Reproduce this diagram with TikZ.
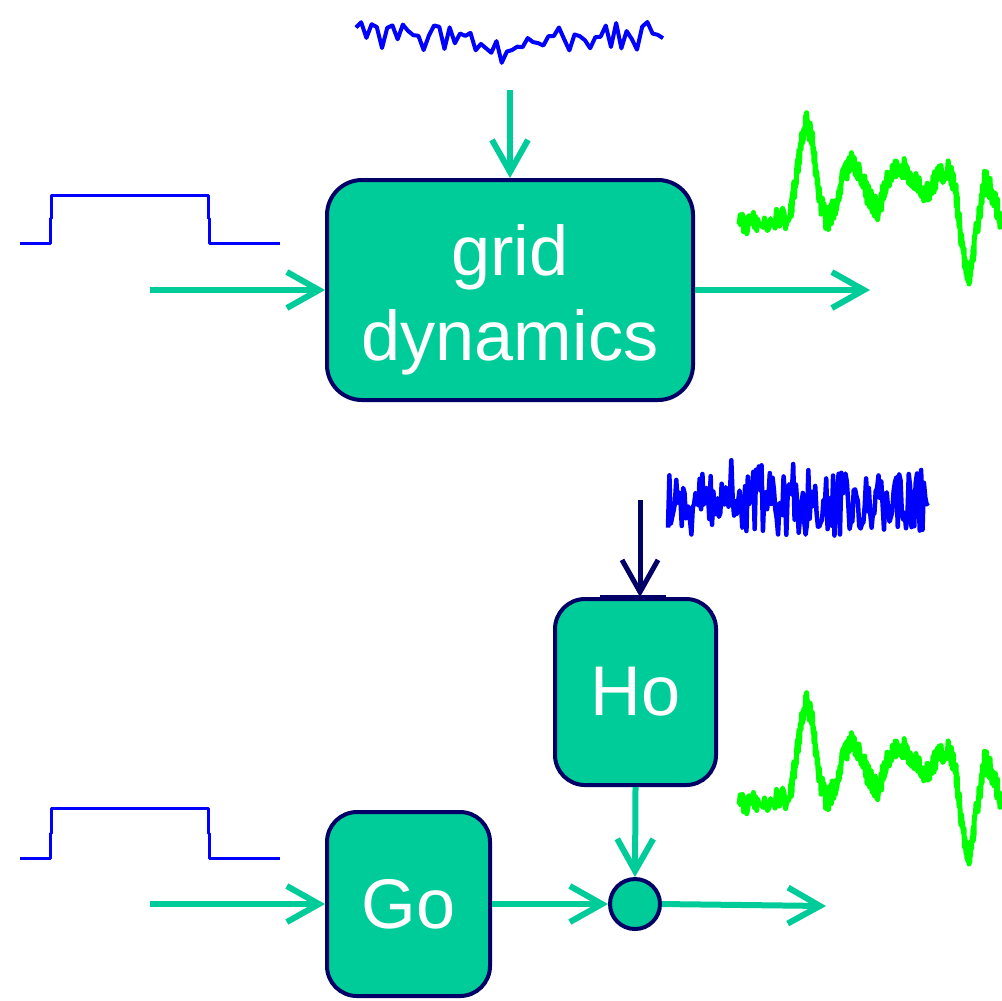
\documentclass[tikz,border=0pt]{standalone}
\usepackage{fontspec}
\setmainfont{Liberation Sans}
\usetikzlibrary{arrows.meta}
\definecolor{blockTeal}{HTML}{00CC99}
\definecolor{edgeNavy}{HTML}{000066}
\definecolor{sigBlue}{HTML}{0000FF}
\definecolor{sigGreen}{HTML}{00FF00}

% measured output trace, drawn twice
\newcommand{\greentrace}{%
  \draw[sigGreen, line width=0.5mm, line join=round] (738,225)
    \foreach \xa/\ya/\xb/\yb in {738/225/760/222, 760/222/790/218, 790/218/797/170,
        797/170/806/118, 806/118/812/140, 812/140/820/200, 820/200/827/222,
        827/222/835/205, 835/205/845/172, 845/172/853/160, 853/160/862/180,
        862/180/870/200, 870/200/878/210, 878/210/888/180, 888/180/900/165,
        900/165/912/178, 912/178/925/195, 925/195/935/180, 935/180/947/168,
        947/168/955/185, 955/185/960/230, 960/230/968/282, 968/282/975/240,
        975/240/985/178, 985/178/995/200, 995/200/1002/228}{
      \foreach \t in {0.05,0.1,...,1}{
        -- ({\xa+\t*(\xb-\xa)}, {\ya+\t*(\yb-\ya)+11*rand})
      }
    };}

\begin{document}
\begin{tikzpicture}[x=0.1mm, y=-0.1mm,
    block/.style={draw=edgeNavy, line width=0.4mm, fill=blockTeal, text=white,
                  font=\fontsize{20}{24}\selectfont, align=center},
    flow/.style={draw=blockTeal, line width=0.6mm,
                 -{Straight Barb[length=3.2mm, width=3.6mm]}},
    sig/.style={sigBlue, line width=0.3mm, line join=round}]
  \useasboundingbox (0,0) rectangle (1002,1000);

  % upper diagram
  \node[block, rounded corners=3.5mm, minimum width=36.6mm, minimum height=22mm,
        text height=40pt, text depth=0pt]
    (grid) at (510,290) {grid\\dynamics};
  \coordinate (noisein) at (510,90);
  \coordinate (ctrlin) at (150,290);
  \coordinate (measout) at (870,290);
  \draw[flow] (noisein) -- (grid.north);
  \draw[flow] (ctrlin) -- (grid.west);
  \draw[flow] (grid.east) -- (measout);

  \pgfmathsetseed{17}
  \draw[sig, line width=0.4mm] plot[domain=356:663, samples=60]
    (\x, {36+14*rand+14*exp(-((\x-495)/45)^2)});
  \draw[sig] (20,243) -- (50,243) -- (50,218) -- (51,218) -- (51,195)
    -- (208,195) -- (208,218) -- (209,218) -- (209,243) -- (280,243);
  \pgfmathsetseed{5}
  \greentrace

  % lower diagram
  \node[block, rounded corners=3mm, minimum width=16.1mm, minimum height=18.6mm]
    (Ho) at (635.5,692) {Ho};
  \node[block, rounded corners=3mm, minimum width=16.3mm, minimum height=18.4mm]
    (Go) at (408.5,904) {Go};
  \node[block, circle, minimum size=5mm, inner sep=0pt] (sum) at (635,904) {};
  \coordinate (hnoisein) at (640,500);
  \coordinate (ctrlin2) at (150,904);
  \coordinate (measout2) at (826,906);
  \draw[flow, draw=edgeNavy, line width=0.5mm] (hnoisein) -- (hnoisein |- Ho.north);
  \draw[edgeNavy, line width=0.2mm] (600,595.5) -- (666,595.5);
  \draw[flow] (ctrlin2) -- (Go.west);
  \draw[flow] (Go.east) -- (sum.west);
  \draw[flow] (Ho.south) -- (sum.north);
  \draw[flow] (sum.east) -- (measout2);

  \pgfmathsetseed{41}
  \draw[sig, line width=0.45mm] plot[domain=668:928, samples=190]
    (\x, {502+33*rand+40*rand*rand*rand*rand});
  \draw[sig] (20,858) -- (50,858) -- (50,833) -- (51,833) -- (51,808)
    -- (208,808) -- (208,833) -- (209,833) -- (209,858) -- (280,858);
  \begin{scope}[yshift=-58mm]
    \pgfmathsetseed{5}
    \greentrace
  \end{scope}
\end{tikzpicture}
\end{document}
